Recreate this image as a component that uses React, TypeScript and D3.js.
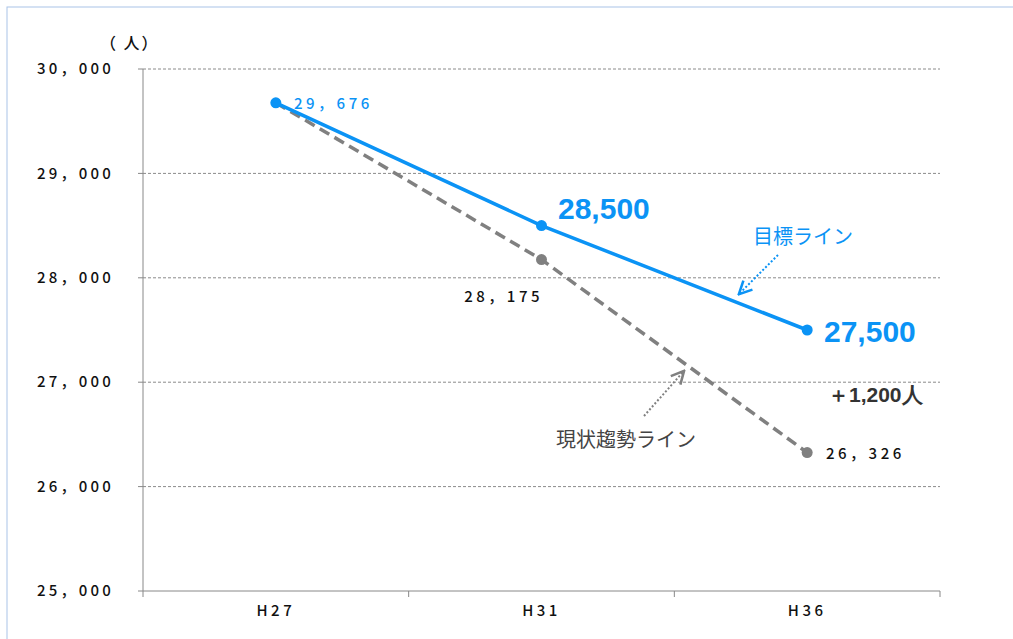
import React from "react";
import * as d3 from "d3";

const categories = ["H27", "H31", "H36"];
const targetValues = [29676, 28500, 27500];
const trendValues = [29676, 28175, 26326];
const yTicks = [25000, 26000, 27000, 28000, 29000, 30000];

const W = 1013;
const H = 639;
const BLUE = "#0b93f5";
const GRAY = "#808080";
const JP = "'Noto Sans CJK JP', 'Noto Sans', sans-serif";
const AR = "Arial, 'Liberation Sans', sans-serif";

const App: React.FC = () => {
  const x = d3.scaleBand<string>().domain(categories).range([143, 940]);
  const y = d3.scaleLinear().domain([25000, 30000]).range([591, 69]);
  const cx = (c: string) => (x(c) ?? 0) + x.bandwidth() / 2;
  const line = d3
    .line<number>()
    .x((_, i) => cx(categories[i]))
    .y((d) => y(d));
  const fmt = (v: number) => d3.format(",")(v).replace(",", "，");

  return (
    <svg width={W} height={H} style={{ position: "absolute", left: 0, top: 0, background: "#fff" }}>
      <defs>
        <marker id="ab" viewBox="0 0 10 10" refX="8" refY="5" markerWidth="8" markerHeight="8" orient="auto">
          <path d="M1,1 L9,5 L1,9" fill="none" stroke={BLUE} strokeWidth="1.6" />
        </marker>
        <marker id="ag" viewBox="0 0 10 10" refX="8" refY="5" markerWidth="8" markerHeight="8" orient="auto">
          <path d="M1,1 L9,5 L1,9" fill="none" stroke={GRAY} strokeWidth="1.6" />
        </marker>
      </defs>
      <rect x={7} y={7} width={1010} height={640} fill="none" stroke="#a9c4e8" strokeWidth={1} />
      {yTicks.map((t) => (
        <g key={t}>
          {t > 25000 && (
            <line x1={143} x2={940} y1={y(t)} y2={y(t)} stroke="#8a8a8a" strokeDasharray="3,2" strokeWidth={1} />
          )}
          <line x1={138} x2={143} y1={y(t)} y2={y(t)} stroke="#888" />
          <text x={114} y={y(t)} dy="0.35em" textAnchor="end" fontFamily={JP} fontWeight={500} fontSize={15} letterSpacing={3.2} fill="#111">
            {fmt(t)}
          </text>
        </g>
      ))}
      <line x1={143} x2={143} y1={69} y2={591} stroke="#888" />
      <line x1={143} x2={940} y1={591} y2={591} stroke="#888" />
      {[...categories.map((c) => x(c) ?? 0), 940].map((p, i) => (
        <line key={i} x1={p} x2={p} y1={591} y2={597} stroke="#888" />
      ))}
      {categories.map((c) => (
        <text key={c} x={cx(c)} y={616} textAnchor="middle" fontFamily={JP} fontWeight={500} fontSize={15} letterSpacing={3.5} fill="#111">
          {c}
        </text>
      ))}
      <text x={100} y={49} fontFamily={JP} fontWeight={500} fontSize={16} letterSpacing={2} fill="#111">（ 人）</text>

      <path d={line(trendValues) ?? ""} fill="none" stroke={GRAY} strokeWidth={3.5} strokeDasharray="11,6" />
      <path d={line(targetValues) ?? ""} fill="none" stroke={BLUE} strokeWidth={3.5} />
      {trendValues.map((v, i) => i > 0 && <circle key={i} cx={cx(categories[i])} cy={y(v)} r={5.5} fill={GRAY} />)}
      {targetValues.map((v, i) => <circle key={i} cx={cx(categories[i])} cy={y(v)} r={5.5} fill={BLUE} />)}

      <text x={294} y={y(targetValues[0]) + 1} dy="0.35em" fontFamily={JP} fontWeight={500} fontSize={15} letterSpacing={3.5} fill={BLUE}>
        {fmt(targetValues[0])}
      </text>
      <text x={558} y={y(targetValues[1]) - 7} fontFamily={AR} fontWeight="bold" fontSize={30} fill={BLUE}>
        28,500
      </text>
      <text x={824} y={y(targetValues[2]) + 12} fontFamily={AR} fontWeight="bold" fontSize={30} fill={BLUE}>
        27,500
      </text>
      <text x={543} y={297} dy="0.35em" textAnchor="end" fontFamily={JP} fontWeight={500} fontSize={15} letterSpacing={3.5} fill="#111">
        {fmt(trendValues[1])}
      </text>
      <text x={826} y={y(trendValues[2]) + 1} dy="0.35em" fontFamily={JP} fontWeight={500} fontSize={15} letterSpacing={3.5} fill="#111">
        {fmt(trendValues[2])}
      </text>

      <text x={753} y={244} fontFamily={JP} fontSize={20} fill={BLUE}>目標ライン</text>
      <line x1={778} y1={255} x2={740} y2={293} stroke={BLUE} strokeWidth={2} strokeDasharray="2,2" markerEnd="url(#ab)" />
      <text x={556} y={447} fontFamily={JP} fontSize={20} fill="#444">現状趨勢ライン</text>
      <line x1={644} y1={416} x2={683} y2={372} stroke={GRAY} strokeWidth={2} strokeDasharray="2,2" markerEnd="url(#ag)" />
      <text x={828} y={402} fontFamily={AR} fontWeight="bold" fontSize={21} fill="#333">
        ＋1,200人
      </text>
    </svg>
  );
};

export default App;
